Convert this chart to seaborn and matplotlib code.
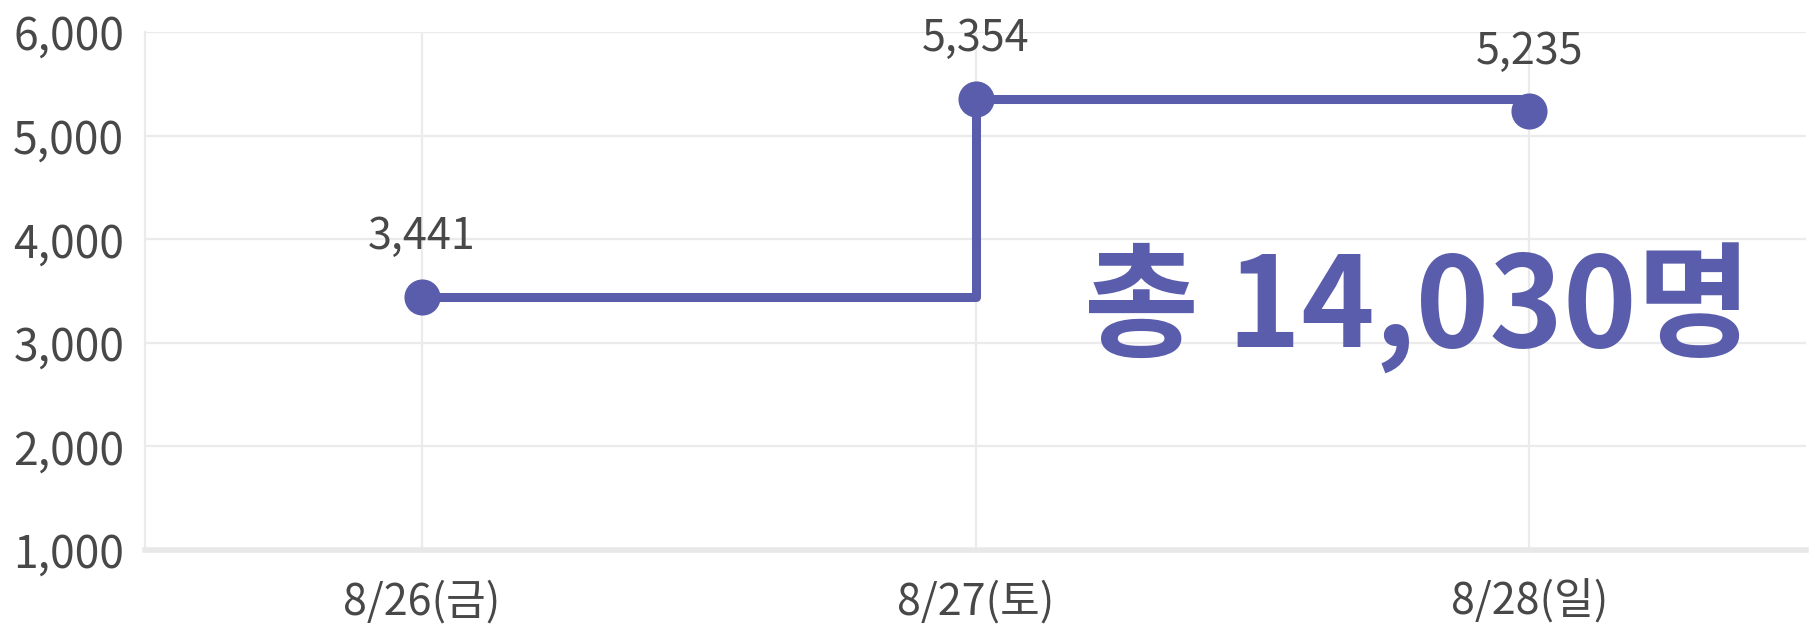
import seaborn as sns
import matplotlib.pyplot as plt
import pandas as pd

# data
days = ["8/26(금)", "8/27(토)", "8/28(일)"]
visitors = [3441, 5354, 5235]
total_label = "총 14,030명"

y_ticks = [1000, 2000, 3000, 4000, 5000, 6000]

line_color = "#5a5dab"
text_color = "#484848"
grid_color = "#ebebeb"

sns.set_style("white")
plt.rcParams["font.family"] = ["Noto Sans CJK KR", "DejaVu Sans"]

df = pd.DataFrame({"day": days, "visitors": visitors})

fig = plt.figure(figsize=(18.19, 6.25), dpi=100)
ax = fig.add_axes([0.0797, 0.12, 0.9132, 0.8288])

sns.lineplot(
    data=df,
    x="day",
    y="visitors",
    sort=False,
    drawstyle="steps-post",
    color=line_color,
    linewidth=6.5,
    marker="o",
    markersize=26,
    markeredgewidth=0,
    ax=ax,
    zorder=3
)

# value labels above each point
for d, v in zip(days, visitors):
    ax.annotate(
        f"{v:,}",
        xy=(d, v),
        xytext=(0, 43),
        textcoords="offset points",
        ha="center",
        va="center",
        fontsize=31,
        fontweight="medium",
        color=text_color
    )

# big total
ax.text(
    0.766, 0.465,
    total_label,
    transform=ax.transAxes,
    ha="center",
    va="center",
    fontsize=90,
    fontweight="heavy",
    color=line_color
)

ax.set_xlim(-0.5, 2.5)
ax.set_ylim(1000, 6000)
ax.set_yticks(y_ticks)
ax.set_yticklabels([f"{t:,}" for t in y_ticks], fontweight="medium")
ax.set_xticks(range(len(days)))
ax.set_xticklabels(days, fontweight="medium")

ax.set_xlabel("")
ax.set_ylabel("")

ax.grid(True, color=grid_color, linewidth=1.6)
ax.set_axisbelow(True)

ax.tick_params(axis="y", length=0, pad=15, labelsize=32, labelcolor=text_color)
ax.tick_params(axis="x", length=0, pad=22, labelsize=31, labelcolor=text_color)

sns.despine(ax=ax, top=True, right=True)
ax.spines["left"].set_color(grid_color)
ax.spines["left"].set_linewidth(1.6)
ax.spines["bottom"].set_color("#e8e8e8")
ax.spines["bottom"].set_linewidth(4)

plt.savefig("out.png", dpi=100)
plt.close()
